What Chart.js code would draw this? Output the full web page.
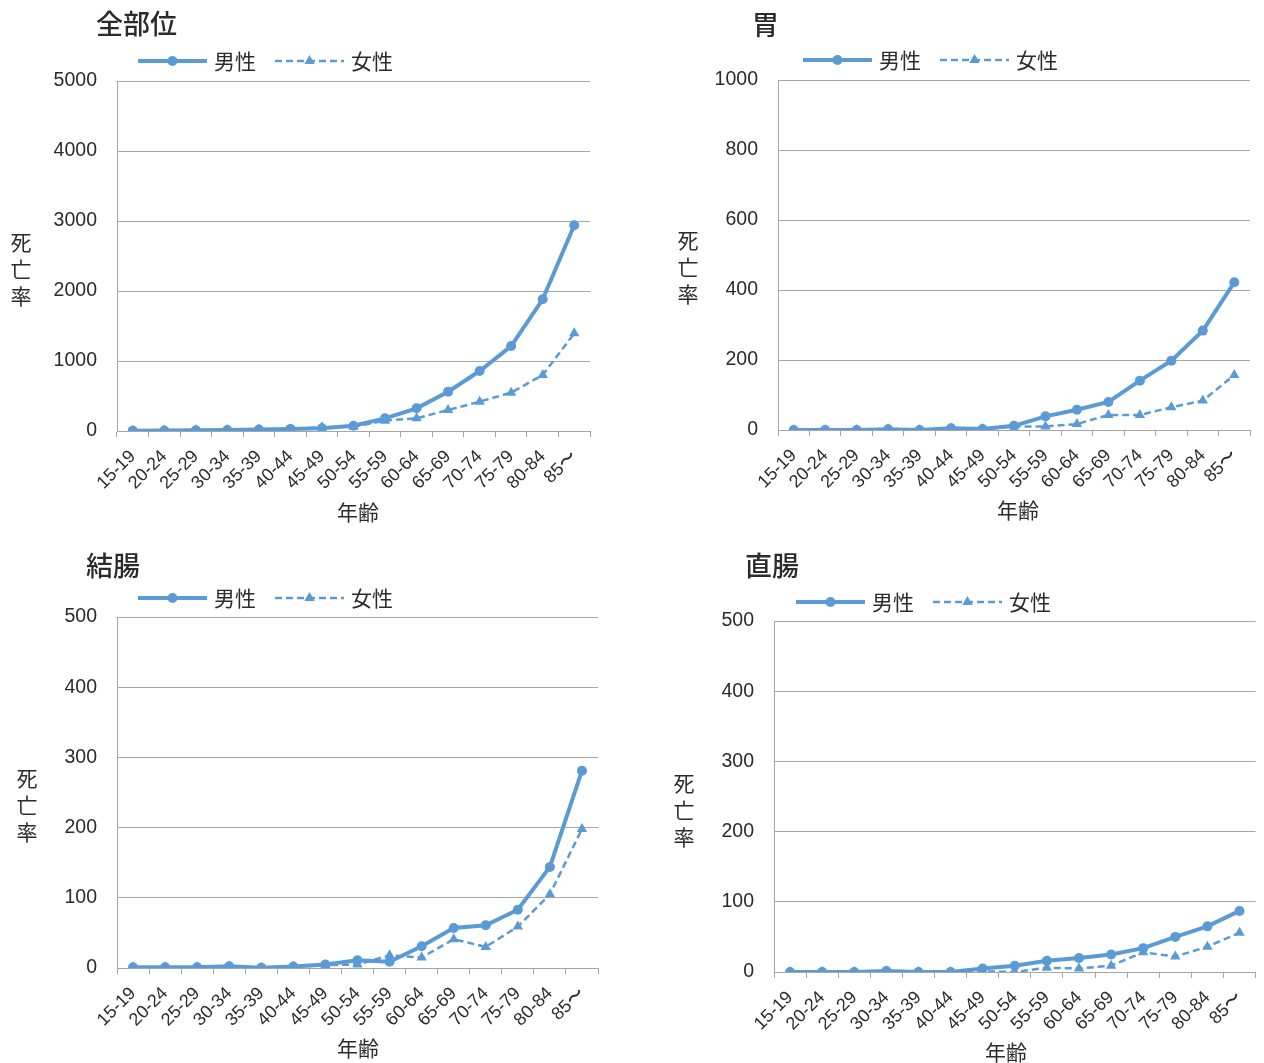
<!DOCTYPE html>
<html>
<head>
<meta charset="utf-8">
<script src="https://cdn.jsdelivr.net/npm/chart.js@4/dist/chart.umd.min.js"></script>
<style>
  html, body { margin: 0; padding: 0; background: #ffffff; }
  #wrap { position: relative; width: 1264px; height: 1063px; overflow: hidden; }
  canvas { position: absolute; }
</style>
</head>
<body>
<div id="wrap">
  <canvas id="c1" width="632" height="532" style="left:0px;top:0px"></canvas>
  <canvas id="c2" width="632" height="532" style="left:632px;top:0px"></canvas>
  <canvas id="c3" width="632" height="531" style="left:0px;top:532px"></canvas>
  <canvas id="c4" width="632" height="531" style="left:632px;top:532px"></canvas>
</div>
<script>
// ---- data ----
const ageGroups = ['15-19','20-24','25-29','30-34','35-39','40-44','45-49','50-54','55-59','60-64','65-69','70-74','75-79','80-84','85〜'];
const seriesNames = ['男性', '女性'];
const chartTitles = ['全部位', '胃', '結腸', '直腸'];
const xAxisTitle = '年齢';
const yAxisTitle = '死亡率';

const allSitesMale   = [5, 8, 10, 15, 20, 30, 38, 76, 181, 324, 562, 857, 1214, 1881, 2940];
const allSitesFemale = [5, 7, 10, 14, 20, 25, 55, 62, 148, 181, 300, 419, 548, 800, 1395];
const stomachMale    = [0, 0, 0, 2, 0, 5, 3, 12, 39, 58, 80, 141, 198, 284, 422];
const stomachFemale  = [0, 0, 0, 2, 0, 4, 3, 10, 10, 17, 43, 43, 65, 84, 157];
const colonMale      = [1, 1, 1, 2.5, 0.5, 2, 5, 11, 9, 31, 57, 61, 83, 144, 281];
const colonFemale    = [1, 1, 1, 2, 0.5, 2, 4, 5, 18, 15, 41, 30, 59, 105, 198];
const rectumMale     = [0, 0, 0, 1.5, 0, 0, 5, 9, 16, 20, 25, 34, 50, 65, 87];
const rectumFemale   = [0, 0, 0, 1, 0, 0, 1, 0, 6, 5, 9, 28, 22, 36, 56];

const yMaxes  = [5000, 1000, 500, 500];
const ySteps  = [1000, 200, 100, 100];

// ---- style ----
const BLUE = '#5B9BD5';
const TEXT = '#2B2B2B';
const GRID = '#A8A8A8';
const AXIS = '#A6A6A6';
const NUM_FONT = "'Liberation Sans', Arial, sans-serif";
const CJK_FONT = "'Noto Sans CJK JP', 'Noto Sans', sans-serif";

Chart.defaults.font.family = NUM_FONT;
Chart.defaults.color = TEXT;

function drawMarker(ctx, style, x, y, r, color) {
  ctx.save();
  ctx.fillStyle = color;
  ctx.beginPath();
  if (style === 'triangle') {
    ctx.moveTo(x, y - r);
    ctx.lineTo(x + r * 0.87, y + r * 0.5);
    ctx.lineTo(x - r * 0.87, y + r * 0.5);
    ctx.closePath();
  } else {
    ctx.arc(x, y, r, 0, Math.PI * 2);
  }
  ctx.fill();
  ctx.restore();
}

const decor = {
  id: 'decor',
  afterDraw(chart, args, o) {
    const ctx = chart.ctx;
    ctx.save();
    ctx.fillStyle = TEXT;
    ctx.textBaseline = 'middle';
    // title
    ctx.textAlign = 'left';
    ctx.font = '500 27px ' + CJK_FONT;
    ctx.fillText(o.title, o.titleX, o.titleY);
    // legend
    ctx.font = '21px ' + CJK_FONT;
    let x = o.legendX;
    const ly = o.legendY;
    chart.data.datasets.forEach((ds, i) => {
      const len = 69;
      ctx.save();
      ctx.strokeStyle = ds.borderColor;
      ctx.lineWidth = ds.borderWidth;
      ctx.setLineDash(ds.borderDash || []);
      ctx.beginPath();
      ctx.moveTo(x, ly);
      ctx.lineTo(x + len, ly);
      ctx.stroke();
      ctx.restore();
      drawMarker(ctx, ds.pointStyle, x + len / 2, ly, ds.pointRadius, ds.borderColor);
      x += len + 7;
      ctx.fillStyle = TEXT;
      ctx.fillText(ds.label, x, ly);
      x += ctx.measureText(ds.label).width + 19;
    });
    // y title (stacked characters)
    ctx.textAlign = 'center';
    ctx.font = '21px ' + CJK_FONT;
    Array.from(o.yTitle).forEach((ch, i) => {
      ctx.fillText(ch, o.yTitleX, o.yTitleY + i * 27);
    });
    // x title
    ctx.fillText(o.xTitle, o.xTitleX, o.xTitleY);
    ctx.restore();
  }
};

function makeChart(id, male, female, idx, geo) {
  const ctx = document.getElementById(id);
  return new Chart(ctx, {
    type: 'line',
    data: {
      labels: ageGroups,
      datasets: [
        {
          label: seriesNames[0], data: male,
          borderColor: BLUE, backgroundColor: BLUE,
          borderWidth: 4, pointStyle: 'circle', pointRadius: 5,
          pointBorderWidth: 0, pointBackgroundColor: BLUE,
          tension: 0, order: 1
        },
        {
          label: seriesNames[1], data: female,
          borderColor: BLUE, backgroundColor: BLUE,
          borderWidth: 2.5, borderDash: [7, 4], pointStyle: 'triangle', pointRadius: 6,
          pointBorderWidth: 0, pointBackgroundColor: BLUE,
          tension: 0, order: 0
        }
      ]
    },
    options: {
      responsive: false,
      animation: false,
      devicePixelRatio: 1,
      layout: { padding: { left: 0, top: geo.top, right: geo.right, bottom: 0 } },
      plugins: {
        legend: { display: false },
        title: { display: false },
        tooltip: { enabled: false },
        decor: {
          title: chartTitles[idx], titleX: geo.titleX, titleY: geo.titleY,
          legendX: geo.legendX, legendY: geo.legendY,
          yTitle: yAxisTitle, yTitleX: geo.yTitleX, yTitleY: geo.yTitleY,
          xTitle: xAxisTitle, xTitleX: geo.xTitleX, xTitleY: geo.xTitleY
        }
      },
      scales: {
        x: {
          offset: true,
          grid: { display: true, drawOnChartArea: false, drawTicks: true, tickLength: 6, offset: true, color: AXIS },
          border: { display: true, color: AXIS, width: 1 },
          ticks: { minRotation: 45, maxRotation: 45, autoSkip: false, padding: 9, color: TEXT, font: { size: 18, family: NUM_FONT } },
          afterFit(s) { s.height = geo.xHeight; }
        },
        y: {
          min: 0, max: yMaxes[idx],
          grid: { color: GRID, drawTicks: false, tickLength: 0 },
          border: { display: true, color: AXIS, width: 1 },
          ticks: { stepSize: ySteps[idx], padding: 20, color: TEXT, font: { size: 19.5, family: NUM_FONT }, callback: v => String(v) },
          afterFit(s) { s.width = geo.yWidth; }
        }
      }
    },
    plugins: [decor]
  });
}

makeChart('c1', allSitesMale, allSitesFemale, 0, {
  top: 81, right: 42, yWidth: 117, xHeight: 101,
  titleX: 96, titleY: 24, legendX: 138, legendY: 61,
  yTitleX: 21, yTitleY: 242, xTitleX: 358, xTitleY: 512
});
makeChart('c2', stomachMale, stomachFemale, 1, {
  top: 80, right: 14, yWidth: 146, xHeight: 102,
  titleX: 120, titleY: 25, legendX: 171, legendY: 60,
  yTitleX: 56, yTitleY: 240, xTitleX: 386, xTitleY: 510
});
makeChart('c3', colonMale, colonFemale, 2, {
  top: 85, right: 34, yWidth: 117, xHeight: 95,
  titleX: 86, titleY: 34, legendX: 138, legendY: 66,
  yTitleX: 27, yTitleY: 246, xTitleX: 358, xTitleY: 516
});
makeChart('c4', rectumMale, rectumFemale, 3, {
  top: 89, right: 4, yWidth: 142, xHeight: 91,
  titleX: 113, titleY: 34, legendX: 164, legendY: 70,
  yTitleX: 52, yTitleY: 251, xTitleX: 374, xTitleY: 520
});
</script>
</body>
</html>
